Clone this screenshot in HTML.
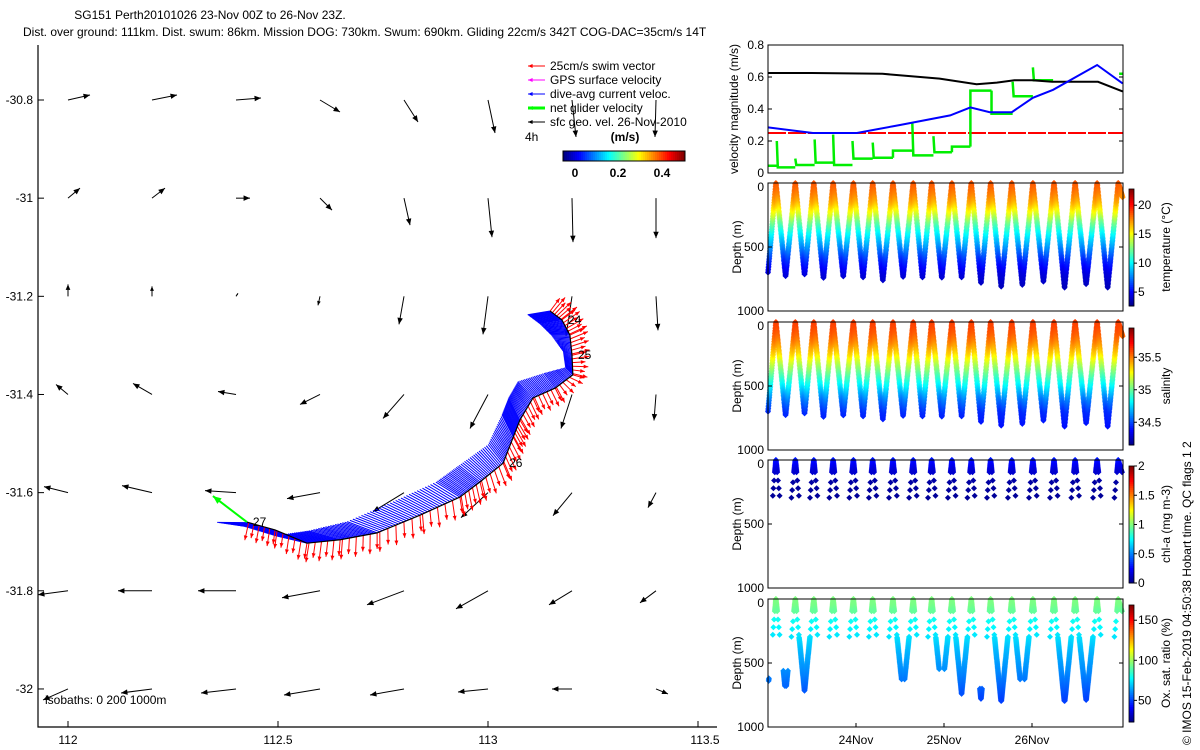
<!DOCTYPE html>
<html><head><meta charset="utf-8"><style>
body{margin:0;background:#fff;}
svg{display:block;font-family:"Liberation Sans",sans-serif;}
text{font-family:"Liberation Sans",sans-serif;}
</style></head><body>
<svg id="s" width="1200" height="750" viewBox="0 0 1200 750" xmlns="http://www.w3.org/2000/svg">
<rect width="1200" height="750" fill="#fff"/>
<text x="210" y="19" font-size="12" text-anchor="middle">SG151 Perth20101026 23-Nov 00Z to 26-Nov 23Z.</text>
<text x="23" y="36" font-size="12">Dist. over ground: 111km. Dist. swum: 86km. Mission DOG: 730km. Swum: 690km. Gliding 22cm/s 342T COG-DAC=35cm/s 14T</text>
<g id="map"></g>
<g id="vel"></g>
<g id="sec"></g>
<text transform="translate(1191,745) rotate(-90)" font-size="12">© IMOS 15-Feb-2019 04:50:38 Hobart time. QC flags 1  2</text>
</svg>
<script>
// ---------- DATA ----------
const gridLon=[112,112.2,112.4,112.6,112.8,113,113.2,113.4];
const gridLat=[-30.8,-31,-31.2,-31.4,-31.6,-31.8,-32];
const geoU=[[0.22,0.25,0.25,0.2,0.14,0.07,0.04,-0.01],[0.12,0.13,0.14,0.12,0.06,0.04,0.01,0],[0,0,0.02,-0.02,-0.05,-0.05,-0.06,0.02],[-0.12,-0.19,-0.18,-0.2,-0.21,-0.18,-0.11,-0.02],[-0.24,-0.3,-0.31,-0.33,-0.31,-0.27,-0.19,-0.08],[-0.3,-0.34,-0.38,-0.38,-0.37,-0.32,-0.23,-0.16],[-0.25,-0.31,-0.35,-0.36,-0.34,-0.3,-0.2,0.12]];
const geoV=[[0.05,0.05,0.02,-0.12,-0.22,-0.33,-0.37,-0.37],[0.1,0.1,0,-0.12,-0.27,-0.39,-0.44,-0.4],[0.12,0.1,0.03,-0.09,-0.28,-0.38,-0.4,-0.34],[0.1,0.11,0.03,-0.1,-0.24,-0.34,-0.34,-0.26],[0.06,0.07,0.02,-0.06,-0.19,-0.25,-0.23,-0.15],[-0.04,0,0,-0.07,-0.14,-0.18,-0.14,-0.12],[-0.11,-0.04,-0.04,-0.06,-0.06,-0.03,0,-0.05]];
const trackLon=[113.148,113.176,113.195,113.200,113.202,113.160,113.107,113.076,113.060,113.036,112.981,112.933,112.838,112.736,112.648,112.569,112.493,112.426];
const trackLat=[-31.230,-31.248,-31.279,-31.320,-31.360,-31.387,-31.407,-31.452,-31.487,-31.540,-31.578,-31.609,-31.646,-31.682,-31.696,-31.703,-31.676,-31.660];
const dacU=[-0.3,-0.3,-0.25,-0.12,-0.1,-0.15,-0.2,-0.15,-0.15,-0.2,-0.28,-0.32,-0.36,-0.4,-0.42,-0.42,-0.42,-0.42];
const dacV=[-0.05,-0.05,0,0.05,0.1,0.2,0.22,0.3,0.3,0.25,0.22,0.2,0.18,0.15,0.12,0.1,0.05,0.0];
const swimU=[0.15,0.2,0.22,0.22,0.18,0.1,0.1,0.12,0.12,0.1,0.06,0.04,0.02,0,-0.02,-0.04,-0.03,-0.05];
const swimV=[0.2,0.15,0.1,0.05,-0.05,-0.2,-0.22,-0.2,-0.22,-0.24,-0.25,-0.25,-0.25,-0.25,-0.25,-0.24,-0.22,-0.22];
const trackLabels=[["24",1],["25",3],["26",9],["27",17]];
const netU=-0.34, netV=0.26;
const blackT=[0,0.5,1.3,1.95,2.37,2.6,2.8,3.0,3.23,3.75,4.03];
const blackV=[0.625,0.625,0.62,0.59,0.555,0.565,0.58,0.58,0.57,0.57,0.51];
const blueT=[0,0.51,1.01,1.5,2.07,2.3,2.52,2.77,3.01,3.24,3.74,4.03];
const blueV=[0.285,0.25,0.25,0.3,0.36,0.41,0.38,0.38,0.47,0.52,0.675,0.56];
const greenT=[0,0.1,0.31,0.53,0.74,0.96,1.19,1.42,1.64,1.88,2.09,2.3,2.54,2.78,3.01,3.24];
const greenV=[0.045,0.035,0.05,0.065,0.05,0.09,0.095,0.14,0.11,0.13,0.165,0.515,0.37,0.48,0.58];
const greenSpike=[0,0.2,0.09,0.21,0.24,0.2,0.19,0,0.31,0.23,0,0,0,0.57,0.66];
const swimSpeed=0.25;
const surfT=[0.09,0.31,0.52,0.74,0.97,1.19,1.42,1.65,1.86,2.09,2.31,2.53,2.77,3.01,3.25,3.49,3.74,3.98];
const diveMax=[700,730,718,744,731,740,762,735,742,740,740,783,809,796,770,817,791,817,250];
const profDepth=[0,50,100,150,200,250,300,400,500,600,700,800];
const tempVal=[18.6,18.2,17.6,16.8,15.6,14.3,12.6,10,8,6,4.5,3.8];
const salVal=[35.62,35.6,35.56,35.5,35.42,35.34,35.22,35.0,34.8,34.6,34.45,34.4];
const chlVal=[0.3,0.22,0.15,0.08,0.06,0.05,0.05,0.05,0.05,0.05,0.05,0.05];
const oxVal=[96,95,92,80,78,76,74,68,64,60,55,50];
const oxMin=[620,560,300,0,0,0,0,300,0,300,300,700,300,300,0,300,300,0];
const oxMax=[640,680,800,0,0,0,0,630,0,550,800,800,800,630,0,800,820,0];
const sparseDepths=[160,220,280];
// ---------- HELPERS ----------
const NS="http://www.w3.org/2000/svg";
function mk(parent,tag,attrs){const e=document.createElementNS(NS,tag);for(const k in attrs)e.setAttribute(k,attrs[k]);parent.appendChild(e);return e;}
function jet(f){f=Math.max(0,Math.min(1,f));const r=Math.max(0,Math.min(1,1.5-Math.abs(4*f-3))),g=Math.max(0,Math.min(1,1.5-Math.abs(4*f-2))),b=Math.max(0,Math.min(1,1.5-Math.abs(4*f-1)));return `rgb(${Math.round(r*255)},${Math.round(g*255)},${Math.round(b*255)})`;}
function interp(xs,ys,x){if(x<=xs[0])return ys[0];for(let i=1;i<xs.length;i++){if(x<=xs[i]){const f=(x-xs[i-1])/(xs[i]-xs[i-1]);return ys[i-1]+f*(ys[i]-ys[i-1]);}}return ys[ys.length-1];}
function arrow(g,x1,y1,x2,y2,col,w,hs){
  const l=mk(g,'line',{x1,y1,x2,y2,stroke:col,'stroke-width':w});
  
  
  const a=Math.atan2(y2-y1,x2-x1),L=Math.hypot(x2-x1,y2-y1);if(L<2)return;
  const h=Math.min(hs,L*0.5);
  const p=`${x2},${y2} ${x2-h*Math.cos(a-0.4)},${y2-h*Math.sin(a-0.4)} ${x2-h*Math.cos(a+0.4)},${y2-h*Math.sin(a+0.4)}`;
  const hd=mk(g,'polygon',{points:p,fill:col});
  
  
}
function txt(g,x,y,s,size,anchor,extra){const t=mk(g,'text',Object.assign({x,y,'font-size':size,'text-anchor':anchor||'start'},extra||{}));t.textContent=s;return t;}
// ---------- MAP ----------
const map=document.getElementById('map');
const mx=lon=>68+(lon-112)*420, my=lat=>100+(-30.8-lat)*490.8;
const VS=100;
{
  const ax=mk(map,'path',{d:'M38,45 V727 H717',fill:'none',stroke:'#000','stroke-width':1.2});
  
  
  [112,112.5,113,113.5].forEach(v=>{const x=mx(v);
    const t=mk(map,'line',{x1:x,y1:727,x2:x,y2:721,stroke:'#000'});
    
    
    const l=txt(map,x+(v===113.5?7:0),744,String(v),12,'middle');
    
    });
  [-30.8,-31,-31.2,-31.4,-31.6,-31.8,-32].forEach(v=>{const y=my(v);
    const t=mk(map,'line',{x1:38,y1:y,x2:44,y2:y,stroke:'#000'});
    
    
    const l=txt(map,33,y+4,String(v),12,'end');
    
    });
  const gg=mk(map,'g',{});
  
  
  gridLat.forEach((la,r)=>gridLon.forEach((lo,c)=>{const x=mx(lo),y=my(la);
    arrow(gg,x,y,x+geoU[r][c]*VS,y-geoV[r][c]*VS,'#000',1,7);}));
  const bg=mk(map,'g',{});
  
  
  const rg=mk(map,'g',{});
  
  
  for(let i=0;i<trackLon.length-1;i++){
    const n=16;
    for(let k=0;k<n;k++){const f=k/n;
      const x=mx(trackLon[i]+f*(trackLon[i+1]-trackLon[i])), y=my(trackLat[i]+f*(trackLat[i+1]-trackLat[i]));
      const u=dacU[i]+f*(dacU[i+1]-dacU[i]), v=dacV[i]+f*(dacV[i+1]-dacV[i]);
      const bl=mk(bg,'line',{x1:x,y1:y,x2:x+u*VS*0.75,y2:y-v*VS*0.75,stroke:'#0000ff','stroke-width':1});
      
      
      if(k%3===0){const su=swimU[i]+f*(swimU[i+1]-swimU[i]), sv=swimV[i]+f*(swimV[i+1]-swimV[i]);
        const w=(k%2?1:0.8);
        arrow(rg,x,y,x+su*VS*0.8*w,y-sv*VS*0.8*w,'#ff0000',1,5);}
    }
  }
  const tl=mk(map,'polyline',{points:trackLon.map((lo,i)=>mx(lo)+','+my(trackLat[i])).join(' '),fill:'none',stroke:'#000','stroke-width':1.2});
  
  
  const L=trackLon.length-1;
  const ng=mk(map,'g',{});
  
  
  arrow(ng,mx(trackLon[L]),my(trackLat[L]),mx(trackLon[L])+netU*VS,my(trackLat[L])-netV*VS,'#00ff00',2,9);
  trackLabels.forEach(([s,i])=>{const t=txt(map,mx(trackLon[i])+6,my(trackLat[i])+4,s,12,'start');
    
    });
  const iso=txt(map,45,704,'isobaths: 0   200  1000m',12,'start');
  
  
  const lg=mk(map,'g',{});
  
  
  const legT=['25cm/s swim vector','GPS surface velocity','dive-avg current veloc.','net glider velocity','sfc geo. vel. 26-Nov-2010'];
  const legC=['#ff0000','#ff00ff','#0000ff','#00ff00','#000000'];
  legT.forEach((s,i)=>{const y=66+i*14;arrow(lg,545,y,528,y,legC[i],i===3?3:1,5);
    const t=txt(lg,550,y+4,s,12,'start');
    
    });
  const h4=txt(lg,525,141,'4h',12,'start');
  
  
  const mu=txt(lg,625,141,'(m/s)',12,'middle',{'font-weight':'bold'});
  
  
  for(let i=0;i<61;i++){const r=mk(lg,'rect',{x:563+i*2,y:151,width:2.2,height:10,fill:jet(i/60)});
    
    }
  const cbr=mk(lg,'rect',{x:563,y:151,width:122,height:10,fill:'none',stroke:'#000'});
  
  
  [['0',575],['0.2',618],['0.4',662]].forEach(([s,x])=>{const t=txt(lg,x,177,s,12,'middle',{'font-weight':'bold'});
    
    });
}
// ---------- RIGHT PANELS ----------
const PX0=768,PX1=1123;
const tx=t=>PX0+t*88;
function frame(g,top,bot,name){const r=mk(g,'rect',{x:PX0,y:top,width:PX1-PX0,height:bot-top,fill:'none',stroke:'#000','stroke-width':1});
  
  }
const vel=document.getElementById('vel');
{
  const vy=v=>173-v*160;
  [0,0.2,0.4,0.6,0.8].forEach(v=>{const y=vy(v);
    const l=txt(vel,764,y+4,String(v),12,'end');
    
    
    const t1=mk(vel,'path',{d:`M${PX0},${y}h4M${PX1},${y}h-4`,stroke:'#000'});
    
    });
  const yl=txt(vel,0,0,'velocity magnitude (m/s)',12,'middle',{transform:'translate(738,109) rotate(-90)'});
  
  
  const rl=mk(vel,'line',{x1:PX0,y1:vy(swimSpeed),x2:PX1,y2:vy(swimSpeed),stroke:'#ff0000','stroke-width':2,'stroke-dasharray':'18,2'});
  
  
  let d='';
  for(let i=0;i<greenV.length;i++){const x0=tx(greenT[i]),x1=tx(greenT[i+1]);
    if(greenSpike[i]>0)d+=`M${x0},${vy(greenSpike[i])}L${x0+1},${vy(greenV[i])}`;else d+=`M${x0},${vy(i>0?greenV[i-1]:greenV[i])}L${x0},${vy(greenV[i])}`;
    d+=`L${x1},${vy(greenV[i])}`;}
  d+=`M${tx(3.99)},${vy(0.62)}H${tx(4.03)}`;
  const gl=mk(vel,'path',{d,fill:'none',stroke:'#00ee00','stroke-width':2.5});
  
  
  const bk=mk(vel,'polyline',{points:blackT.map((t,i)=>tx(t)+','+vy(blackV[i])).join(' '),fill:'none',stroke:'#000','stroke-width':2});
  
  
  const bl=mk(vel,'polyline',{points:blueT.map((t,i)=>tx(t)+','+vy(blueV[i])).join(' '),fill:'none',stroke:'#0000ff','stroke-width':2});
  
  
  frame(vel,45,173,'velocity-axes');
}
function divePts(){const segs=[];segs.push([0,surfT[0],diveMax[0],'up',-1]);
  for(let i=0;i<surfT.length-1;i++)segs.push([surfT[i],surfT[i+1],diveMax[i+1],'v',i]);
  const last=surfT[surfT.length-1];segs.push([last,4.03,diveMax[diveMax.length-1],'down',surfT.length-1]);
  return segs;}
const sec=document.getElementById('sec');
const panels=[
  {top:183,name:'temperature',vals:tempVal,lo:2.6,hi:22.8,ticks:[5,10,15,20],label:'temperature (°C)',mode:'full'},
  {top:322,name:'salinity',vals:salVal,lo:34.15,hi:35.95,ticks:[34.5,35,35.5],label:'salinity',mode:'full'},
  {top:460,name:'chlorophyll',vals:chlVal,lo:0,hi:2,ticks:[0,0.5,1,1.5,2],label:'chl-a (mg m-3)',mode:'shallow'},
  {top:599,name:'oxygen',vals:oxVal,lo:23,hi:169,ticks:[50,100,150],label:'Ox. sat. ratio (%)',mode:'ox'}];
const H=128;
const segs=divePts();
panels.forEach((p,pi)=>{
  const g=mk(sec,'g',{});
  
  
  const dy=d=>p.top+d*H/1000;
  const dots=[];
  segs.forEach(([t0,t1,D,kind,idx])=>{
    function pos(t){
      if(kind==='up')return D*(t1-t)/(t1-t0);
      if(kind==='down')return Math.min(D,D*(t-t0)/0.11);
      const m=(t0+t1)/2;return t<=m?D*(t-t0)/(m-t0):D*(t1-t)/(t1-m);}
    function addCastDepth(dd,cast){
      let t;
      if(kind==='up'){t=t1-dd/D*(t1-t0);}
      else if(kind==='down'){if(dd>D)return;t=t0+dd/D*0.11;}
      else{const m=(t0+t1)/2;t=cast==='d'?t0+dd/D*(m-t0):t1-dd/D*(t1-m);}
      if(t>4.03)return;dots.push([t,dd]);}
    if(p.mode==='full'){
      for(let t=t0;t<=t1;t+=0.0016)dots.push([t,pos(t)]);
    }else{
      const casts=kind==='v'?['d','u']:['d'];
      casts.forEach(c=>{for(let dd=0;dd<=100;dd+=8)addCastDepth(dd,c);
        sparseDepths.forEach(dd=>addCastDepth(dd+(c==='u'?15:0),c));
        if(p.mode==='ox'&&kind==='v'){const k=idx+1;const a=oxMin[k],b=oxMax[k];
          if(b>0)for(let dd=a;dd<=Math.min(b,D);dd+=8)addCastDepth(dd,c);}
        if(p.mode==='ox'&&kind==='up'&&oxMax[0]>0){for(let dd=oxMin[0];dd<=oxMax[0];dd+=10)addCastDepth(dd,c);}
      });
    }
  });
  dots.forEach(([t,d])=>{const x=tx(t),y=dy(d);if(x<PX0||x>PX1)return;
    const v=interp(profDepth,p.vals,d);
    const pt=mk(g,'path',{d:`M${x.toFixed(1)},${(y-3).toFixed(1)}l3,3l-3,3l-3,-3z`,fill:jet((v-p.lo)/(p.hi-p.lo))});
    
    });
  frame(g,p.top,p.top+H,p.name+'-axes');
  [[0,'0'],[500,'500'],[1000,'1000']].forEach(([d,s])=>{const y=dy(d);
    const l=txt(g,764,y+(d===0?8:4),s,12,'end');
    
    
    const t=mk(g,'path',{d:`M${PX0},${y}h4M${PX1},${y}h-4`,stroke:'#000'});
    
    });
  const yl=txt(g,0,0,'Depth (m)',12,'middle',{transform:`translate(741,${p.top+64}) rotate(-90)`});
  
  
  const cb0=p.top+6,cb1=p.top+123;
  for(let i=0;i<60;i++){const r=mk(g,'rect',{x:1129,y:cb1-(i+1)*(cb1-cb0)/60,width:5,height:(cb1-cb0)/60+0.5,fill:jet((i+0.5)/60)});
    
    }
  const cbr=mk(g,'rect',{x:1129,y:cb0,width:5,height:cb1-cb0,fill:'none',stroke:'#000','stroke-width':0.8});
  
  
  p.ticks.forEach(v=>{const y=cb1-(v-p.lo)/(p.hi-p.lo)*(cb1-cb0);
    const t=mk(g,'line',{x1:1134,y1:y,x2:1137,y2:y,stroke:'#000'});
    
    
    const l=txt(g,1138,y+4,String(v),12,'start');
    
    });
  const cl=txt(g,0,0,p.label,12,'middle',{transform:`translate(1170,${p.top+64}) rotate(-90)`});
  
  
});
[['24Nov',1],['25Nov',2],['26Nov',3]].forEach(([s,t])=>{const x=tx(t);
  const tk=mk(sec,'path',{d:`M${x},727v-4`,stroke:'#000'});
  
  
  const l=txt(sec,x,744,s,12,'middle');
  
  });
</script>
</body></html>
